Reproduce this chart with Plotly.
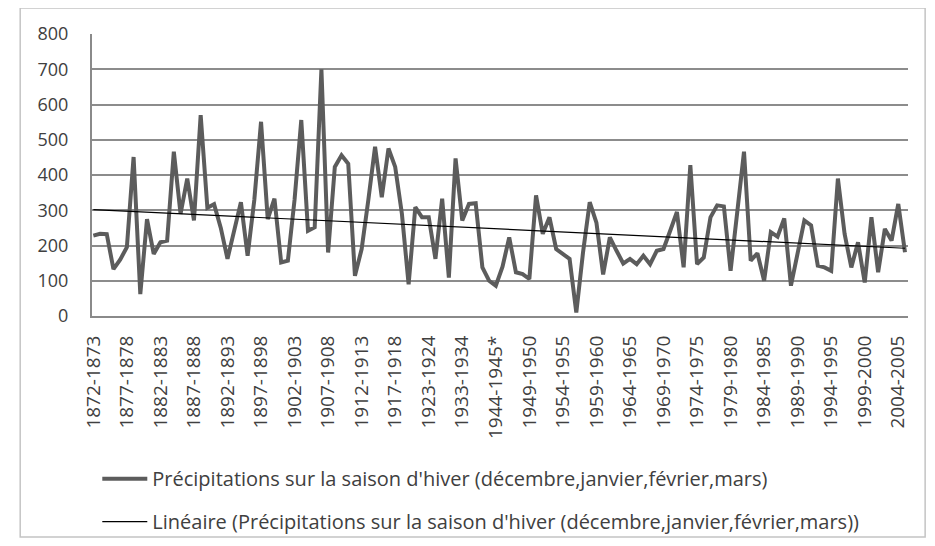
import numpy as np
import plotly.graph_objects as go

# saisons d'hiver (annee de debut) - quelques annees manquantes avant 1945
annees_debut = (list(range(1872, 1918))
                + [1918, 1920, 1921, 1922, 1923]
                + [1924, 1925, 1926, 1932, 1933]
                + [1934, 1935, 1936, 1937, 1944]
                + list(range(1945, 2006)))
saisons = [f"{a}-{a + 1}" + ("*" if a == 1944 else "") for a in annees_debut]

# precipitations (mm)
precip = [
    228, 233, 232, 133, 160, 195, 451, 62, 275, 176,
    209, 214, 466, 290, 390, 271, 570, 307, 317, 250,
    162, 240, 323, 171, 330, 551, 275, 333, 152, 157,
    330, 556, 242, 252, 700, 180, 423, 456, 432, 114,
    190, 330, 480, 337, 475, 423, 290, 90, 309, 280,
    280, 162, 333, 109, 447, 271, 318, 320, 138, 100,
    86, 140, 223, 124, 119, 105, 342, 233, 280, 190,
    176, 162, 10, 180, 323, 265, 118, 223, 185, 149,
    162, 147, 171, 147, 185, 190, 242, 295, 138, 428,
    147, 166, 280, 314, 311, 128, 296, 466, 157, 178,
    100, 238, 225, 277, 86, 180, 271, 257, 143, 138,
    128, 390, 233, 138, 209, 95, 280, 124, 247, 214,
    318, 181,
]

nom_serie = "Précipitations sur la saison d'hiver (décembre,janvier,février,mars)"
nom_tendance = "Linéaire (" + nom_serie + ")"

# tendance lineaire (comme Excel)
idx = np.arange(len(precip))
pente, origine = np.polyfit(idx, precip, 1)
tendance = origine + pente * idx

police = "Open Sans"
gris_texte = "#404040"

fig = go.Figure()
fig.add_trace(go.Scatter(
    x=saisons, y=precip, mode="lines", name=nom_serie,
    line=dict(color="#5c5c5c", width=4), legendgroup="a",
))
fig.add_trace(go.Scatter(
    x=saisons, y=tendance, mode="lines", name=nom_tendance,
    line=dict(color="#000000", width=1.2), legendgroup="b",
))

# la page ajoute 8 px de marge en haut et a gauche
fig.update_layout(
    width=935, height=546,
    margin=dict(l=84, r=35, t=26, b=238, autoexpand=False),
    paper_bgcolor="white", plot_bgcolor="white",
    font=dict(family=police, color=gris_texte),
    showlegend=True,
    legend=dict(
        xref="container", yref="container",
        x=0.0955, y=0.1737, xanchor="left", yanchor="top",
        font=dict(size=20, family=police, color=gris_texte),
        itemwidth=45, tracegroupgap=14,
        bgcolor="rgba(0,0,0,0)",
    ),
    xaxis=dict(
        type="category", range=[-0.2, 121.45],
        tickmode="array", tickvals=saisons[::5], ticktext=saisons[::5],
        tickangle=-90, tickfont=dict(size=19),
        showgrid=False, showline=True, linecolor="#8a8a8a", linewidth=2,
        ticks="", ticklabelstandoff=10,
    ),
    yaxis=dict(
        range=[0, 800], dtick=100, tick0=0,
        tickfont=dict(size=18),
        showgrid=True, gridcolor="#8c8c8c", gridwidth=1.5,
        zeroline=False,
        showline=True, linecolor="#8a8a8a", linewidth=2,
        ticks="", ticklabelstandoff=18,
    ),
    shapes=[dict(
        type="rect", xref="paper", yref="paper",
        x0=-0.088, x1=1.021, y0=-0.784, y1=1.092,
        line=dict(color="#c4c4c4", width=1.5),
    )],
)

fig.write_html("out.html")
